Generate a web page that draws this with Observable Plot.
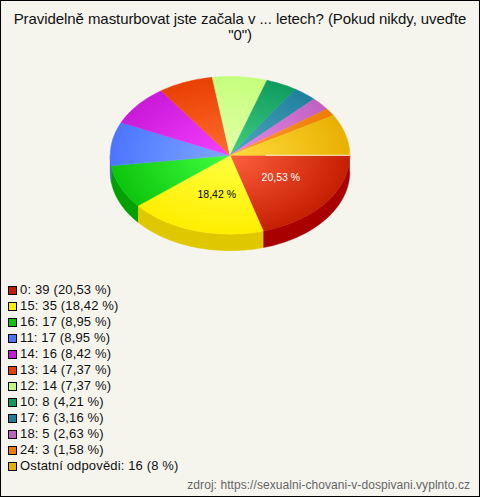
<!DOCTYPE html>
<html><head><meta charset="utf-8">
<script src="https://cdn.jsdelivr.net/npm/d3@7"></script>
<script src="https://cdn.jsdelivr.net/npm/@observablehq/plot@0.6"></script>
<style>
html,body{margin:0;padding:0;background:#f5f5ee}
#frame{position:relative;box-sizing:border-box;width:480px;height:497px;border:1px solid #000;background:#f5f5ee;overflow:hidden;font-family:"Liberation Sans",Arial,sans-serif;color:#111}
#title{position:absolute;left:0;top:10px;width:478px;text-align:center;font-size:15px;line-height:16px;letter-spacing:-0.07px}
#chart{position:absolute;left:-1px;top:59px}
#legend{position:absolute;left:7px;top:281px;font-size:13px;line-height:16px;letter-spacing:0.15px}
#legend .row{height:16px;white-space:nowrap;display:flex;align-items:center}
#legend .sw{display:inline-block;box-sizing:border-box;width:9px;height:9px;border:1px solid #000;margin-right:3px}
#source{position:absolute;right:9px;top:477px;font-size:12px;color:#666;letter-spacing:0.06px}
</style></head><body>
<div id="frame">
<div id="title">Pravidelně masturbovat jste začala v ... letech? (Pokud nikdy, uveďte<br>"0")</div>
<div id="chart"></div>
<div id="legend"></div>
<div id="source">zdroj: https://sexualni-chovani-v-dospivani.vyplnto.cz</div>
</div>
<script>
const categories = ["0","15","16","11","14","13","12","10","17","18","24","Ostatní odpovědi"];
const counts = [39,35,17,17,16,14,14,8,6,5,3,16];
const percentLabels = ["20,53 %","18,42 %","8,95 %","8,95 %","8,42 %","7,37 %","7,37 %","4,21 %","3,16 %","2,63 %","1,58 %","8 %"];
const baseColors = ["#c41e00","#ffee00","#0cc40c","#4a74ff","#c818d8","#e84000","#c4ff7c","#0f9a60","#1f7f9c","#c060c0","#ee7c00","#e8b000"];
const lightColors = ["#ff6040","#ffff40","#40ff40","#80a8ff","#f840ff","#ff6c30","#e4ffa8","#40d080","#50a8c0","#e888e8","#ff9c30","#ffdc40"];
const sideColors = ["#a80000","#e0c800","#00a000","#3050d0","#a000b0","#c03000","#a0d060","#008040","#106080","#a04090","#c06000","#c09000"];

const total = d3.sum(counts);
const depth = 0.21;
const step = Math.PI / 90;
let acc = 0;
const wedges = counts.map((c,i)=>{const a0=acc/total*2*Math.PI; acc+=c; const a1=acc/total*2*Math.PI; return {i,a0,a1,mid:(a0+a1)/2};});

function arcPoints(a0,a1){
  const n=Math.max(2,Math.ceil((a1-a0)/step)); const pts=[];
  for(let k=0;k<=n;k++){const a=a0+(a1-a0)*k/n; pts.push([Math.cos(a),Math.sin(a)]);}
  return pts;
}
const topFaces = wedges.map(w=>[[0,0],...arcPoints(w.a0,w.a1),[0,0]].map(([x,y])=>({x,y:-y,i:w.i})));
const sideFaces = wedges.filter(w=>w.a0<Math.PI).map(w=>{
  const pts=arcPoints(w.a0,Math.min(w.a1,Math.PI));
  return [...pts.map(([x,y])=>({x,y:-y,i:w.i})),...pts.slice().reverse().map(([x,y])=>({x,y:-y-depth,i:w.i}))];
});

function defs(){
  const d=d3.create("svg:defs");
  counts.forEach((_,i)=>{
    const g=d.append("radialGradient").attr("id","w"+i).attr("gradientUnits","userSpaceOnUse")
      .attr("cx",230).attr("cy",95).attr("r",122)
      .attr("gradientTransform","translate(230 95) scale(1 0.66) translate(-230 -95)");
    g.append("stop").attr("offset",0).attr("stop-color",lightColors[i]);
    g.append("stop").attr("offset",1).attr("stop-color",baseColors[i]);
  });
  return d.node();
}
const labelText = (i,fill,dx,dy)=>Plot.text([wedges[i]],{
  x:w=>0.52*Math.cos(w.mid),y:w=>-0.52*Math.sin(w.mid),
  text:w=>percentLabels[w.i],fill,dx,dy,
  fontSize:10.5,fontFamily:"Liberation Sans"
});

const plot = Plot.plot({
  width:480,height:210,margin:0,
  style:{background:"transparent"},
  x:{domain:[-1,1],range:[110,350],axis:null},
  y:{domain:[-1,1],range:[174,16],axis:null},
  marks:[
    defs,
    ...sideFaces.map(s=>Plot.line(s,{x:"x",y:"y",fill:sideColors[s[0].i],stroke:sideColors[s[0].i],strokeWidth:0.5,curve:"linear"})),
    ...topFaces.map((t,i)=>Plot.line(t,{x:"x",y:"y",fill:`url(#w${i})`,stroke:`url(#w${i})`,strokeWidth:0.5,curve:"linear"})),
    Plot.line([{x:0.3,y:0},{x:1,y:0}],{x:"x",y:"y",stroke:"#fff",strokeOpacity:0.8,strokeWidth:1}),
    labelText(0,"#fff",1,-2),
    labelText(1,"#000",5,0)
  ]
});
document.getElementById("chart").append(plot);

const legend=document.getElementById("legend");
categories.forEach((c,i)=>{
  const r=document.createElement("div");r.className="row";
  const s=document.createElement("span");s.className="sw";s.style.background=baseColors[i];
  const t=document.createElement("span");t.textContent=`${c}: ${counts[i]} (${percentLabels[i]})`;
  r.append(s,t);legend.append(r);
});
</script>
</body></html>
